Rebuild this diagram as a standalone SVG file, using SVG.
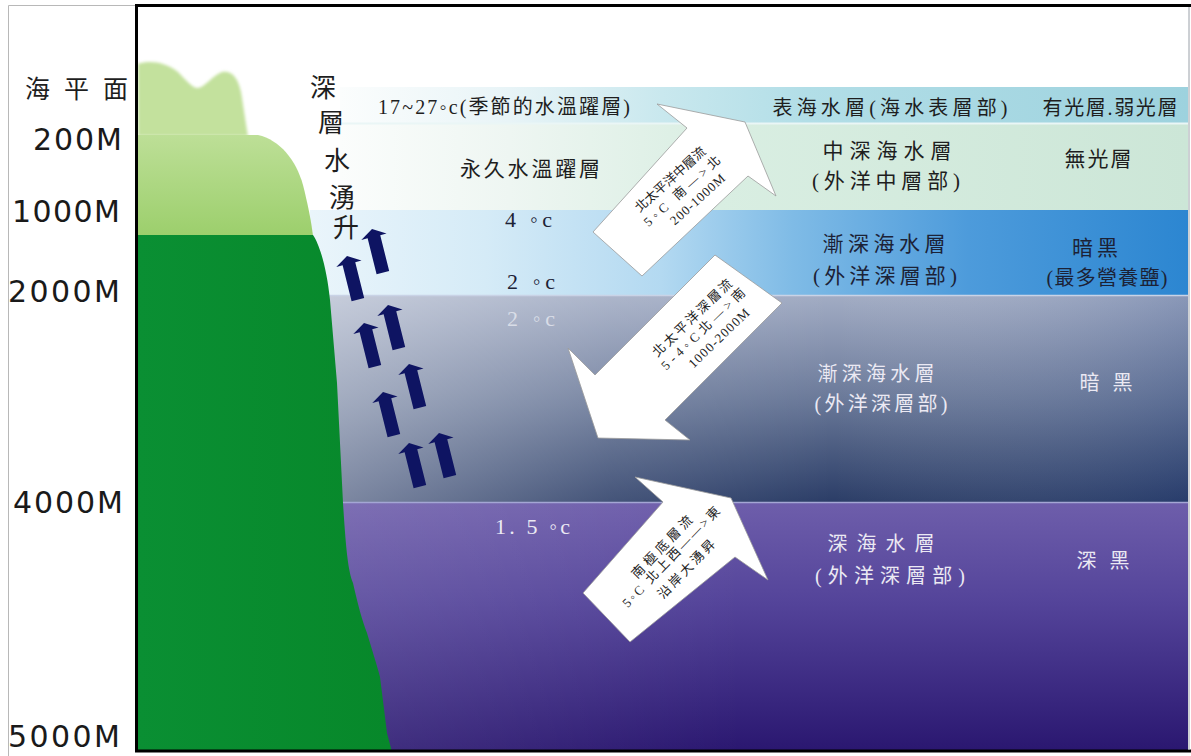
<svg xmlns="http://www.w3.org/2000/svg" width="1191" height="756" viewBox="0 0 1191 756">
  <style>
    .zh { font-family: "Liberation Serif", "Noto Sans CJK TC", serif; }
    .dk { fill: #1e1e1e; }
    .nv { fill: #1c2236; }
    .lt { fill: #ebe9f3; }
    .mid { text-anchor: middle; }
    .depth { font-family: "DejaVu Sans", sans-serif; font-size: 30px; fill: #1a1a1a; }
    .big { fill: #ffffff; stroke: #9a9a9a; stroke-width: 0.8; }
    .up { fill: #0e1462; }
    .at { font-size: 13px; fill: #222222; text-anchor: middle; }
  </style>
  <defs>
    <linearGradient id="gB1" gradientUnits="userSpaceOnUse" x1="340" y1="0" x2="1188" y2="0">
      <stop offset="0" stop-color="#fbfdfd"/>
      <stop offset="0.2" stop-color="#e8f4f7"/>
      <stop offset="0.38" stop-color="#c9e8ee"/>
      <stop offset="0.55" stop-color="#b2dee7"/>
      <stop offset="1" stop-color="#9dd2de"/>
    </linearGradient>
    <linearGradient id="gB2" gradientUnits="userSpaceOnUse" x1="340" y1="0" x2="1188" y2="0">
      <stop offset="0" stop-color="#fbfdfc"/>
      <stop offset="0.2" stop-color="#eef6f2"/>
      <stop offset="0.45" stop-color="#d9eee2"/>
      <stop offset="1" stop-color="#cce6d7"/>
    </linearGradient>
    <linearGradient id="gB3" gradientUnits="userSpaceOnUse" x1="310" y1="0" x2="1188" y2="0">
      <stop offset="0" stop-color="#eaf5fb"/>
      <stop offset="0.2" stop-color="#d5ebf7"/>
      <stop offset="0.4" stop-color="#b3d9f1"/>
      <stop offset="0.55" stop-color="#7fbbe6"/>
      <stop offset="0.75" stop-color="#4d9bdb"/>
      <stop offset="1" stop-color="#2c86d1"/>
    </linearGradient>
    <linearGradient id="gB4" gradientUnits="userSpaceOnUse" x1="0" y1="295" x2="0" y2="502">
      <stop offset="0" stop-color="#a2acc4"/>
      <stop offset="0.5" stop-color="#6a7999"/>
      <stop offset="1" stop-color="#2b3d67"/>
    </linearGradient>
    <linearGradient id="gB4h" gradientUnits="userSpaceOnUse" x1="300" y1="0" x2="1188" y2="0">
      <stop offset="0" stop-color="#ffffff" stop-opacity="0.42"/>
      <stop offset="0.35" stop-color="#ffffff" stop-opacity="0.12"/>
      <stop offset="0.6" stop-color="#ffffff" stop-opacity="0"/>
      <stop offset="1" stop-color="#1a3a80" stop-opacity="0.18"/>
    </linearGradient>
    <linearGradient id="gB5" gradientUnits="userSpaceOnUse" x1="0" y1="502" x2="0" y2="751">
      <stop offset="0" stop-color="#6e5eab"/>
      <stop offset="0.4" stop-color="#54449a"/>
      <stop offset="1" stop-color="#2a1770"/>
    </linearGradient>
    <linearGradient id="gB5h" gradientUnits="userSpaceOnUse" x1="300" y1="0" x2="1188" y2="0">
      <stop offset="0" stop-color="#ffffff" stop-opacity="0.12"/>
      <stop offset="0.5" stop-color="#ffffff" stop-opacity="0"/>
    </linearGradient>
    <linearGradient id="gTier2" x1="0" y1="0" x2="0" y2="1">
      <stop offset="0" stop-color="#bddf97"/>
      <stop offset="1" stop-color="#9ccf6c"/>
    </linearGradient>
    <linearGradient id="gLand" x1="0" y1="0" x2="1" y2="0">
      <stop offset="0" stop-color="#0a8f33"/>
      <stop offset="1" stop-color="#07882a"/>
    </linearGradient>
    <filter id="soft" x="-10%" y="-10%" width="120%" height="120%">
      <feGaussianBlur stdDeviation="1.6"/>
    </filter>
    <path id="upArrow" d="M0,0 L13,8 L6.5,8 L6.5,45 L-6.5,45 L-6.5,8 L-13,8 Z"/>
  </defs>

  <!-- page and frame background -->
  <rect x="0" y="0" width="1191" height="756" fill="#ffffff"/>
  <path d="M8.5,756 V5.5 H136" fill="none" stroke="#b8b8b8" stroke-width="1"/>

  <!-- ocean layers -->
  <g id="layers">
    <rect x="340" y="87" width="848" height="36" fill="url(#gB1)"/>
    <rect x="340" y="123" width="848" height="87" fill="url(#gB2)"/>
    <rect x="310" y="210" width="878" height="85" fill="url(#gB3)"/>
    <rect x="300" y="295" width="888" height="207" fill="url(#gB4)"/>
    <rect x="300" y="295" width="888" height="207" fill="url(#gB4h)"/>
    <rect x="300" y="502" width="888" height="249" fill="url(#gB5)"/>
    <rect x="300" y="502" width="888" height="249" fill="url(#gB5h)"/>
    <line x1="340" y1="123.5" x2="1188" y2="123.5" stroke="#eaf6f6" stroke-width="2"/>
    <line x1="310" y1="295.5" x2="1188" y2="295.5" stroke="#c9d3e6" stroke-width="1.5"/>
    <line x1="300" y1="502.5" x2="1188" y2="502.5" stroke="#a4a6d4" stroke-width="1.5"/>
  </g>

  <!-- continental shelf and slope -->
  <g id="land">
    <path d="M138,136 L138,64 C150,60 165,62 178,72 C186,80 192,88 198,88 C205,87 212,76 222,72 C232,70 238,78 241,92 C244,110 246,125 248,136 Z" fill="#c3e19d" filter="url(#soft)"/>
    <path d="M138,135 L258,135 C280,140 296,160 303,185 C308,205 311,220 313,236 L138,236 Z" fill="url(#gTier2)"/>
    <path d="M138,235 L313,235 C320,245 327,270 330,300 L337,383 L343,503 C346,550 348,570 353,583 C358,605 362,620 367,633 C372,650 377,665 380,677 L387,733 L392,752 L138,752 Z" fill="url(#gLand)"/>
  </g>

  <!-- frame -->
  <g id="frame" fill="none" stroke="#000000" stroke-width="3">
    <path d="M1191,5.5 H136.5 V751 H1191"/>
  </g>
  <line x1="1189" y1="7" x2="1189" y2="750" stroke="#9aa0a8" stroke-width="1"/>

  <!-- depth scale -->
  <g id="depth-scale">
    <text class="zh dk" x="25" y="98" font-size="25" letter-spacing="14">海平面</text>
    <text class="depth" x="33" y="150" textLength="89">200M</text>
    <text class="depth" x="12" y="222" textLength="108">1000M</text>
    <text class="depth" x="8" y="302" textLength="112">2000M</text>
    <text class="depth" x="13" y="513" textLength="110">4000M</text>
    <text class="depth" x="8" y="747" textLength="112">5000M</text>
  </g>

  <!-- upwelling label -->
  <g id="upwelling-label" class="zh dk mid" font-size="26">
    <text x="323" y="97">深</text>
    <text x="331" y="132">層</text>
    <text x="337" y="170">水</text>
    <text x="342" y="207">湧</text>
    <text x="346" y="237">升</text>
  </g>

  <!-- upwelling arrows -->
  <g id="upwelling-arrows" class="up">
    <use href="#upArrow" transform="translate(372,229) rotate(-14)"/>
    <use href="#upArrow" transform="translate(347,256) rotate(-14)"/>
    <use href="#upArrow" transform="translate(388,305) rotate(-14)"/>
    <use href="#upArrow" transform="translate(364,323) rotate(-14)"/>
    <use href="#upArrow" transform="translate(409,364) rotate(-14)"/>
    <use href="#upArrow" transform="translate(383,392) rotate(-14)"/>
    <use href="#upArrow" transform="translate(439,433) rotate(-14)"/>
    <use href="#upArrow" transform="translate(409,443) rotate(-14)"/>
  </g>

  <!-- temperature labels -->
  <g id="temperatures" class="zh">
    <text class="dk" x="378" y="114" font-size="20" textLength="252">17~27◦c(季節的水溫躍層)</text>
    <text class="dk" x="460" y="176" font-size="21" textLength="140">永久水溫躍層</text>
    <text class="nv" x="505" y="227" font-size="22" textLength="47">4 ◦c</text>
    <text class="nv" x="507" y="289" font-size="22" textLength="48">2 ◦c</text>
    <text x="507" y="326" font-size="22" textLength="48" fill="#e2e5ee" fill-opacity="0.85">2 ◦c</text>
    <text class="lt" x="495" y="534" font-size="22" textLength="75">1. 5 ◦c</text>
  </g>

  <!-- layer names -->
  <g id="layer-names" class="zh mid">
    <text class="dk" x="890" y="115" font-size="20" textLength="235">表海水層(海水表層部)</text>
    <text class="dk" x="1110" y="115" font-size="20" textLength="135">有光層.弱光層</text>
    <text class="dk" x="887" y="158" font-size="21" textLength="129">中深海水層</text>
    <text class="dk" x="886" y="188" font-size="21" textLength="148">(外洋中層部)</text>
    <text class="dk" x="1098" y="166" font-size="21" textLength="67">無光層</text>
    <text class="nv" x="884" y="251" font-size="21" textLength="123">漸深海水層</text>
    <text class="nv" x="885" y="283" font-size="21" textLength="144">(外洋深層部)</text>
    <text class="nv" x="1095" y="255" font-size="21" textLength="46">暗黑</text>
    <text class="nv" x="1107" y="285" font-size="20" textLength="121">(最多營養鹽)</text>
    <text class="lt" x="876" y="381" font-size="20" textLength="117">漸深海水層</text>
    <text class="lt" x="881" y="411" font-size="20" textLength="133">(外洋深層部)</text>
    <text class="lt" x="1106" y="390" font-size="20" textLength="53">暗黑</text>
    <text class="lt" x="881" y="551" font-size="20" textLength="107">深海水層</text>
    <text class="lt" x="890" y="583" font-size="20" textLength="150">(外洋深層部)</text>
    <text class="lt" x="1103" y="568" font-size="20" textLength="53">深黑</text>
  </g>

  <!-- currents -->
  <g id="current-mid">
    <polygon class="big" points="593,232 687,128 657,104 745,122 776,196 748,176 642,276"/>
    <g class="zh" transform="translate(682,191) rotate(-42)">
      <text class="at" x="-1" y="-12" font-size="12" textLength="90">北太平洋中層流</text>
      <text class="at" x="0" y="4.5" font-size="12" textLength="98">5◦C  南—&gt;北</text>
      <text class="at" x="6" y="21" font-size="12" textLength="69">200-1000M</text>
    </g>
  </g>
  <g id="current-deep">
    <polygon class="big" points="715,255 782,303 665,420 690,440 598,438 568,348 595,375"/>
    <g class="zh" transform="translate(703,329) rotate(-44)">
      <text class="at" x="0" y="-11" textLength="105">北太平洋深層流</text>
      <text class="at" x="0" y="4.5" textLength="111">5-4◦C北—&gt;南</text>
      <text class="at" x="5" y="22" textLength="79">1000-2000M</text>
    </g>
  </g>
  <g id="current-bottom">
    <polygon class="big" points="583,593 663,502 635,477 731,498 768,580 735,557 630,642"/>
    <g class="zh" transform="translate(671,557) rotate(-46)">
      <text class="at" x="1" y="-9" textLength="81">南極底層流</text>
      <text class="at" x="0" y="4.5" textLength="134">5◦C  北上西——&gt;東</text>
      <text class="at" x="2" y="24" textLength="76">沿岸大湧昇</text>
    </g>
  </g>
</svg>
